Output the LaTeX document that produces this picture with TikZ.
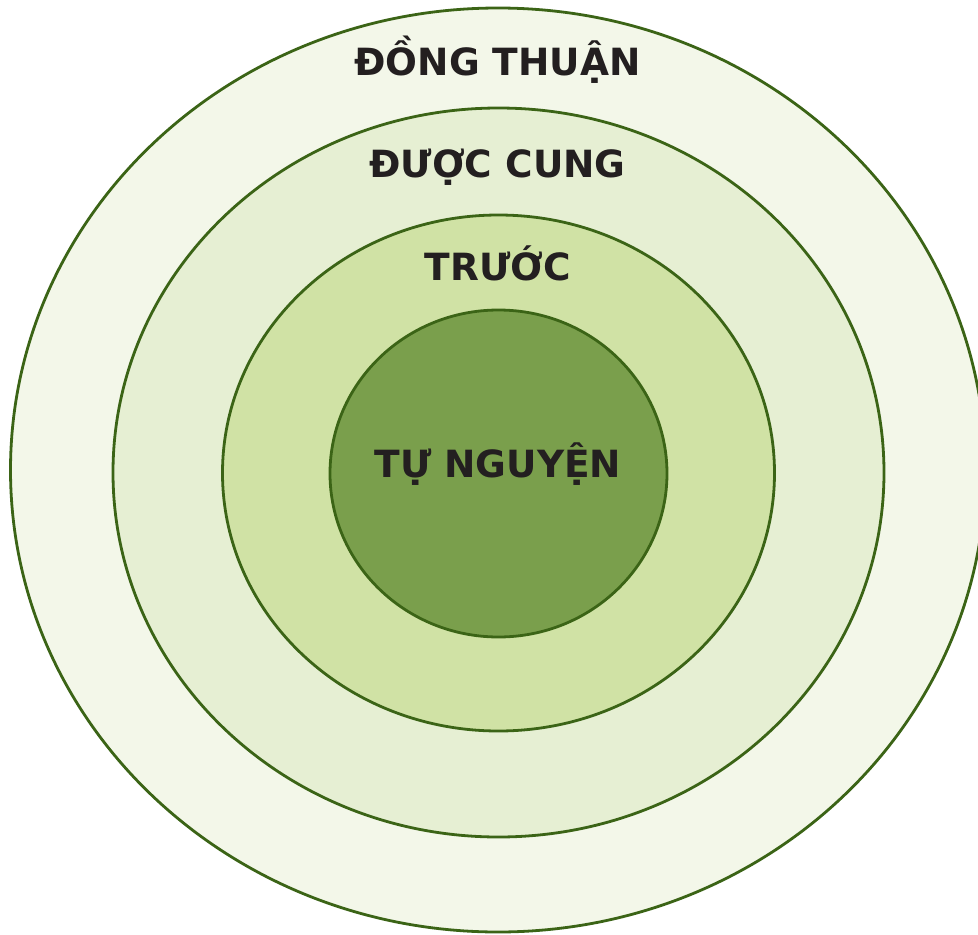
\documentclass[tikz,border=0pt]{standalone}
\usepackage{fontspec}
\setmainfont{DejaVu Sans}
\usetikzlibrary{shapes.geometric}
\definecolor{ring1}{HTML}{F3F7E9}
\definecolor{ring2}{HTML}{E6EFD3}
\definecolor{ring3}{HTML}{D0E2A5}
\definecolor{ring4}{HTML}{7A9F4C}
\definecolor{edge}{HTML}{3B6416}
\definecolor{ink}{HTML}{231F20}
\tikzset{
  ring/.style={ellipse, draw=edge, line width=2.8pt, inner sep=0pt, outer sep=0pt},
  lbl/.style={anchor=base, text=ink, font=\bfseries\fontsize{37.5}{44}\selectfont, inner sep=0pt}
}
\begin{document}
\begin{tikzpicture}[x=1pt,y=-1pt]
\useasboundingbox (0,0) rectangle (978,935);
\clip (0,0) rectangle (978,935);
\node[ring, fill=ring1, minimum width=975pt, minimum height=924pt] (r1) at (498,470) {};
\node[ring, fill=ring2, minimum width=771pt, minimum height=729pt] (r2) at (498.5,472.5) {};
\node[ring, fill=ring3, minimum width=552pt, minimum height=516pt] (r3) at (498.5,473) {};
\node[ring, fill=ring4, minimum width=337pt, minimum height=327pt] (r4) at (498.5,473.5) {};
\node[lbl] (t1) at (497.5,75) {ĐỒNG THUẬN};
\node[lbl] (t2) at (497.5,177) {ĐƯỢC CUNG};
\node[lbl] (t3) at (498,280) {TRƯỚC};
\node[lbl] (t4) at (498,477) {TỰ NGUYỆN};
\end{tikzpicture}
\end{document}
